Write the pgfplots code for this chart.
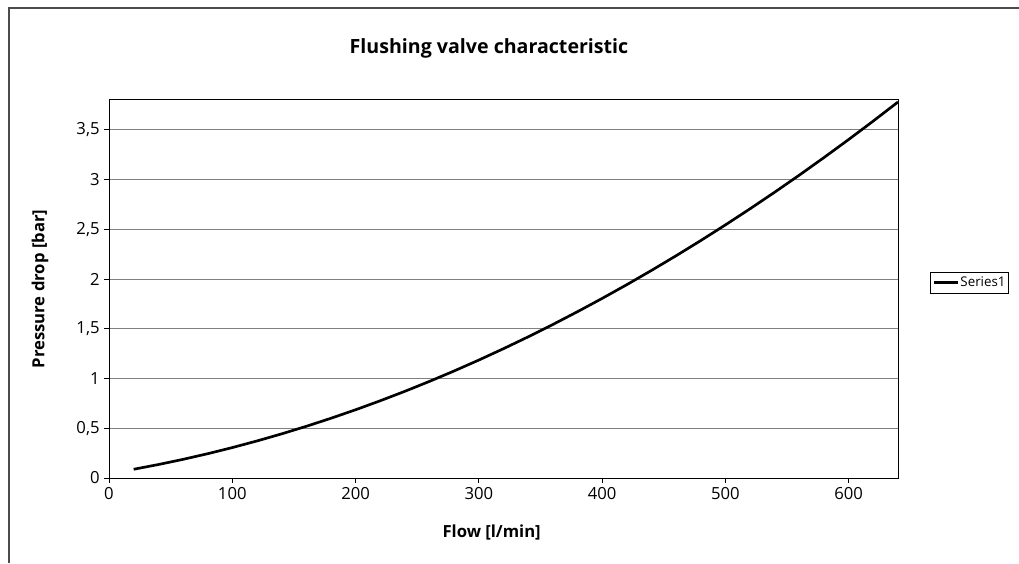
\documentclass[border=0pt]{standalone}
\usepackage{pgfplots}
\pgfplotsset{compat=1.18}
\usepackage{fontspec}
\setmainfont{Open Sans}

\begin{document}
\begin{tikzpicture}
% page: 1019 x 563 px, 1px = 0.75pt
\useasboundingbox (0,0) rectangle (764.25pt,422.25pt);
\draw[gray!60!black, line width=0.8pt] (6.75pt,0pt) -- (6.75pt,416.25pt) -- (764.25pt,416.25pt);
\node[font=\bfseries\fontsize{14.7}{17}\selectfont] at (366.75pt,386.25pt) {Flushing valve characteristic};
\begin{axis}[
  at={(81.75pt,63.75pt)}, anchor=south west,
  scale only axis, width=591.75pt, height=283.5pt,
  xmin=0, xmax=640, ymin=0, ymax=3.8,
  xtick={0,100,...,600}, ytick={0,0.5,...,3.5},
  xtick pos=bottom, ytick pos=left, tick align=outside,
  major tick length=3.5pt,
  ymajorgrids, grid style={gray, line width=0.75pt},
  axis line style={black, line width=0.75pt},
  tick style={black, line width=0.6pt},
  /pgf/number format/use comma,
  /pgf/number format/assume math mode=true,
  ticklabel style={font=\fontsize{12.5}{14}\selectfont},
  xlabel={Flow [l/min]}, ylabel={Pressure drop [bar]},
  every axis x label/.style={at={(axis description cs:0.485,-0.143)}, anchor=center,
    font=\bfseries\fontsize{12.5}{14}\selectfont},
  every axis y label/.style={at={(axis description cs:-0.0875,0.5)}, rotate=90, anchor=center,
    font=\bfseries\fontsize{12.5}{14}\selectfont},
  legend style={at={(1.0406,0.517)}, anchor=west, draw=black, line width=0.6pt,
    font=\fontsize{10}{12}\selectfont, inner sep=1.5pt, nodes={inner xsep=1pt}},
  legend image code/.code={\draw[line width=2pt] (0pt,0pt) -- (18pt,0pt);},
]
\addplot[black, line width=2pt] coordinates {
(20,0.0878) (40,0.1352) (60,0.1872) (80,0.2441) (100,0.3058) (120,0.3723)
(140,0.4435) (160,0.5195) (180,0.6003) (200,0.6859) (220,0.7763) (240,0.8715)
(260,0.9715) (280,1.0762) (300,1.1858) (320,1.3001) (340,1.4191) (360,1.5430)
(380,1.6718) (400,1.8052) (420,1.9434) (440,2.0865) (460,2.2343) (480,2.3869)
(500,2.5444) (520,2.7065) (540,2.8735) (560,3.0452) (580,3.2218) (600,3.4031)
(620,3.5892) (640,3.7801)
};
\addlegendentry{Series1}
\end{axis}
\end{tikzpicture}
\end{document}
